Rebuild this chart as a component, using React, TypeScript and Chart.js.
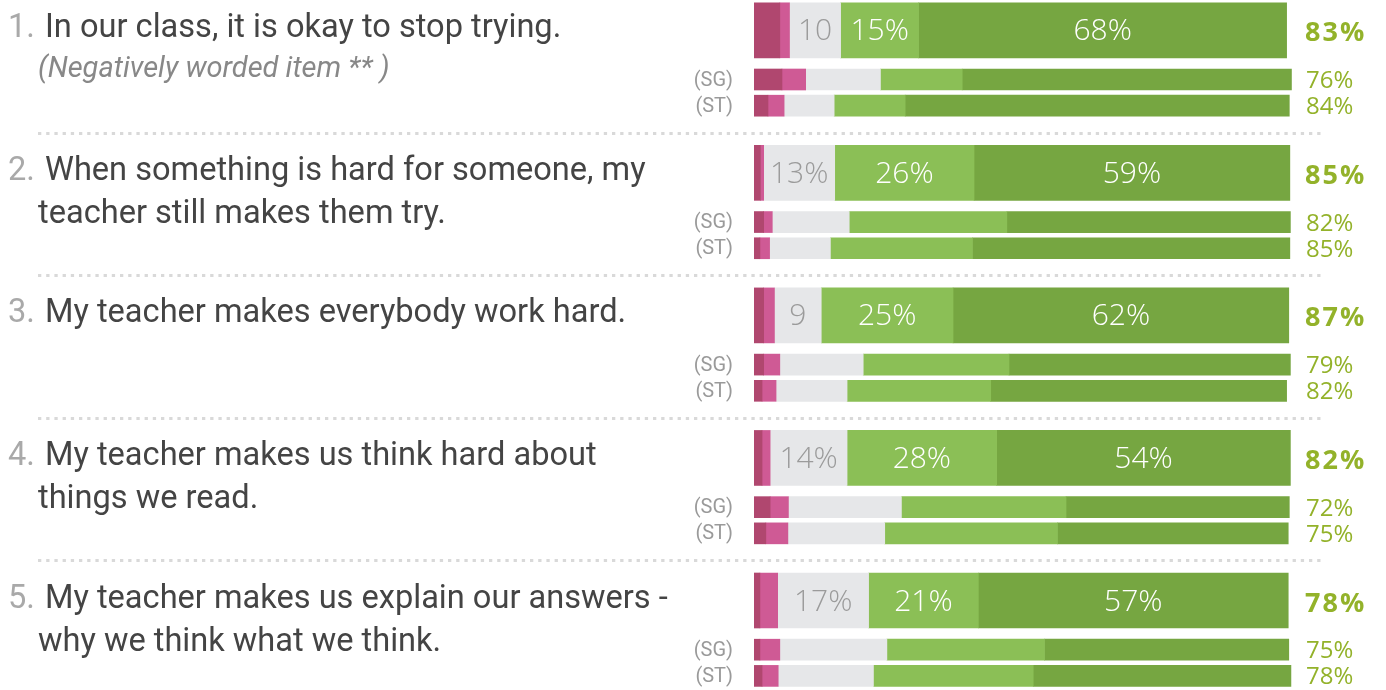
import React, { useEffect, useRef } from "react";
import { Chart, registerables } from "chart.js";

Chart.register(...registerables);

// ---------- data ----------
const questionNumbers = ["1.", "2.", "3.", "4.", "5."];
const questionLines: string[][] = [
  ["In our class, it is okay to stop trying."],
  ["When something is hard for someone, my", "teacher still makes them try."],
  ["My teacher makes everybody work hard."],
  ["My teacher makes us think hard about", "things we read."],
  ["My teacher makes us explain our answers -", "why we think what we think."],
];
const questionNotes = ["(Negatively worded item ** )", "", "", "", ""];
const compareLabels = ["(SG)", "(ST)"];

// main (class) bars, percent per response category
const mainStrongNeg = [4.8, 1.2, 1.8, 1.5, 1.1];
const mainNeg = [1.8, 0.6, 2.0, 1.5, 3.3];
const mainNeutral = [9.5, 13.2, 8.7, 14.3, 16.9];
const mainPos = [14.5, 25.9, 24.5, 27.8, 20.4];
const mainStrongPos = [68.4, 58.7, 62.4, 54.6, 57.6];

// SG comparison bars
const sgStrongNeg = [5.2, 1.8, 1.8, 3.0, 1.1];
const sgNeg = [4.4, 1.6, 3.0, 3.4, 3.7];
const sgNeutral = [13.9, 14.3, 15.5, 21.0, 19.9];
const sgPos = [15.2, 29.3, 27.1, 30.6, 29.3];
const sgStrongPos = [61.2, 52.7, 52.3, 41.5, 45.4];

// ST comparison bars
const stStrongNeg = [2.6, 1.1, 1.5, 2.2, 1.5];
const stNeg = [3.0, 1.8, 2.6, 4.1, 3.0];
const stNeutral = [9.3, 11.3, 13.2, 18.0, 17.7];
const stPos = [13.2, 26.4, 26.7, 32.1, 29.7];
const stStrongPos = [71.4, 59.0, 55.0, 42.9, 47.9];

// labels printed inside the main bars
const neutralLabels = ["10", "13%", "9", "14%", "17%"];
const posLabels = ["15%", "26%", "25%", "28%", "21%"];
const strongPosLabels = ["68%", "59%", "62%", "54%", "57%"];

// favourable totals on the right
const mainTotals = ["83%", "85%", "87%", "82%", "78%"];
const sgTotals = ["76%", "82%", "79%", "72%", "75%"];
const stTotals = ["84%", "85%", "82%", "75%", "78%"];

// ---------- style / layout ----------
const COLORS = ["#b0476f", "#cf5a95", "#e6e7e9", "#8bbf56", "#76a641"];
const W = 1386;
const H = 690;
const BLOCK = 142.55;
const FIRST = 30.3;
const mainY = (i: number) => FIRST + BLOCK * i;
const sgY = (i: number) => mainY(i) + 49.2;
const stY = (i: number) => mainY(i) + 75.4;

const mainSeries = [mainStrongNeg, mainNeg, mainNeutral, mainPos, mainStrongPos];
const sgSeries = [sgStrongNeg, sgNeg, sgNeutral, sgPos, sgStrongPos];
const stSeries = [stStrongNeg, stNeg, stNeutral, stPos, stStrongPos];

const textPlugin = {
  id: "surveyText",
  afterDatasetsDraw(chart: any) {
    const ctx: any = chart.ctx;
    ctx.save();

    // separators
    ctx.strokeStyle = "#d9d9d9";
    ctx.lineWidth = 3;
    ctx.setLineDash([3.3, 4.9]);
    for (let i = 0; i < questionNumbers.length - 1; i++) {
      const y = Math.round(mainY(i) + 102.5) + 0.5;
      ctx.beginPath();
      ctx.moveTo(38, y);
      ctx.lineTo(1322, y);
      ctx.stroke();
    }
    ctx.setLineDash([]);

    questionNumbers.forEach((num, i) => {
      const base = mainY(i);
      // number
      ctx.textBaseline = "alphabetic";
      ctx.textAlign = "left";
      ctx.font = "32.6px Roboto";
      ctx.fillStyle = "#a9a9a9";
      ctx.fillText(num, 8, base + 7);
      ctx.fillStyle = "#444444";
      questionLines[i].forEach((line, j) => {
        ctx.fillText(line, j === 0 ? 45 : 38, base + 7 + j * 43);
      });
      if (questionNotes[i]) {
        ctx.font = "italic 29px Roboto";
        ctx.fillStyle = "#888888";
        ctx.fillText(questionNotes[i], 38, base + 47);
      }
      // SG / ST labels
      ctx.font = "20px Roboto";
      ctx.fillStyle = "#9a9a9a";
      ctx.textAlign = "right";
      ctx.textBaseline = "middle";
      ctx.fillText(compareLabels[0], 733, sgY(i) + 1);
      ctx.fillText(compareLabels[1], 733, stY(i) + 1);

      // totals
      ctx.textAlign = "left";
      ctx.textBaseline = "alphabetic";
      ctx.fillStyle = "#93b22a";
      ctx.font = "bold 27px 'Open Sans'";
      ctx.letterSpacing = "2px";
      ctx.fillText(mainTotals[i], 1305, base + 11);
      ctx.letterSpacing = "0px";
      ctx.font = "24px 'Open Sans'";
      ctx.fillText(sgTotals[i], 1306, sgY(i) + 8.5);
      ctx.fillText(stTotals[i], 1306, stY(i) + 8.5);
    });

    // labels inside main bars
    const labelSets: [number, string[], string][] = [
      [2, neutralLabels, "#9b9b9b"],
      [3, posLabels, "#ffffff"],
      [4, strongPosLabels, "#ffffff"],
    ];
    ctx.font = "300 30px 'Open Sans'";
    ctx.textAlign = "center";
    ctx.textBaseline = "alphabetic";
    labelSets.forEach(([dsIndex, labels, color]) => {
      const meta = chart.getDatasetMeta(dsIndex);
      meta.data.forEach((el: any, i: number) => {
        const cx = (el.x + el.base) / 2;
        ctx.fillStyle = color;
        ctx.fillText(labels[i], cx, el.y + 10);
      });
    });
    ctx.restore();
  },
};

export default function App() {
  const ref = useRef<HTMLCanvasElement | null>(null);

  useEffect(() => {
    if (!ref.current) return;
    const datasets: any[] = [];
    mainSeries.forEach((series, k) => {
      datasets.push({
        label: "main" + k,
        data: series.map((v, i) => ({ x: v, y: mainY(i) })),
        backgroundColor: COLORS[k],
        barThickness: 55,
        stack: "all",
        borderWidth: 0,
      });
    });
    sgSeries.forEach((series, k) => {
      const pts: any[] = [];
      series.forEach((v, i) => {
        pts.push({ x: v, y: sgY(i) });
        pts.push({ x: stSeries[k][i], y: stY(i) });
      });
      datasets.push({
        label: "compare" + k,
        data: pts,
        backgroundColor: COLORS[k],
        barThickness: 21,
        stack: "all",
        borderWidth: 0,
      });
    });

    const chart = new Chart(ref.current, {
      type: "bar",
      data: { datasets },
      options: {
        indexAxis: "y",
        responsive: false,
        animation: false,
        layout: { padding: { left: 754, right: W - 1292, top: 0, bottom: 0 } },
        scales: {
          x: { type: "linear", min: 0, max: 100, stacked: true, display: false, grid: { display: false } },
          y: { type: "linear", min: 0, max: H, reverse: true, offset: false, display: false, grid: { display: false } },
        },
        plugins: {
          legend: { display: false },
          tooltip: { enabled: false },
        },
      },
      plugins: [textPlugin],
    } as any);

    let alive = true;
    if ((document as any).fonts) {
      Promise.all([
        document.fonts.load("32.6px Roboto"),
        document.fonts.load("italic 29px Roboto"),
        document.fonts.load("24px 'Open Sans'"),
        document.fonts.load("bold 27px 'Open Sans'"),
        document.fonts.load("300 30px 'Open Sans'"),
      ]).then(() => {
        if (alive) chart.draw();
      });
    }
    return () => {
      alive = false;
      chart.destroy();
    };
  }, []);

  return (
    <div style={{ position: "fixed", left: 0, top: 0, width: W, height: H, background: "#ffffff" }}>
      <canvas ref={ref} width={W} height={H} style={{ width: W, height: H, display: "block" }} />
    </div>
  );
}
